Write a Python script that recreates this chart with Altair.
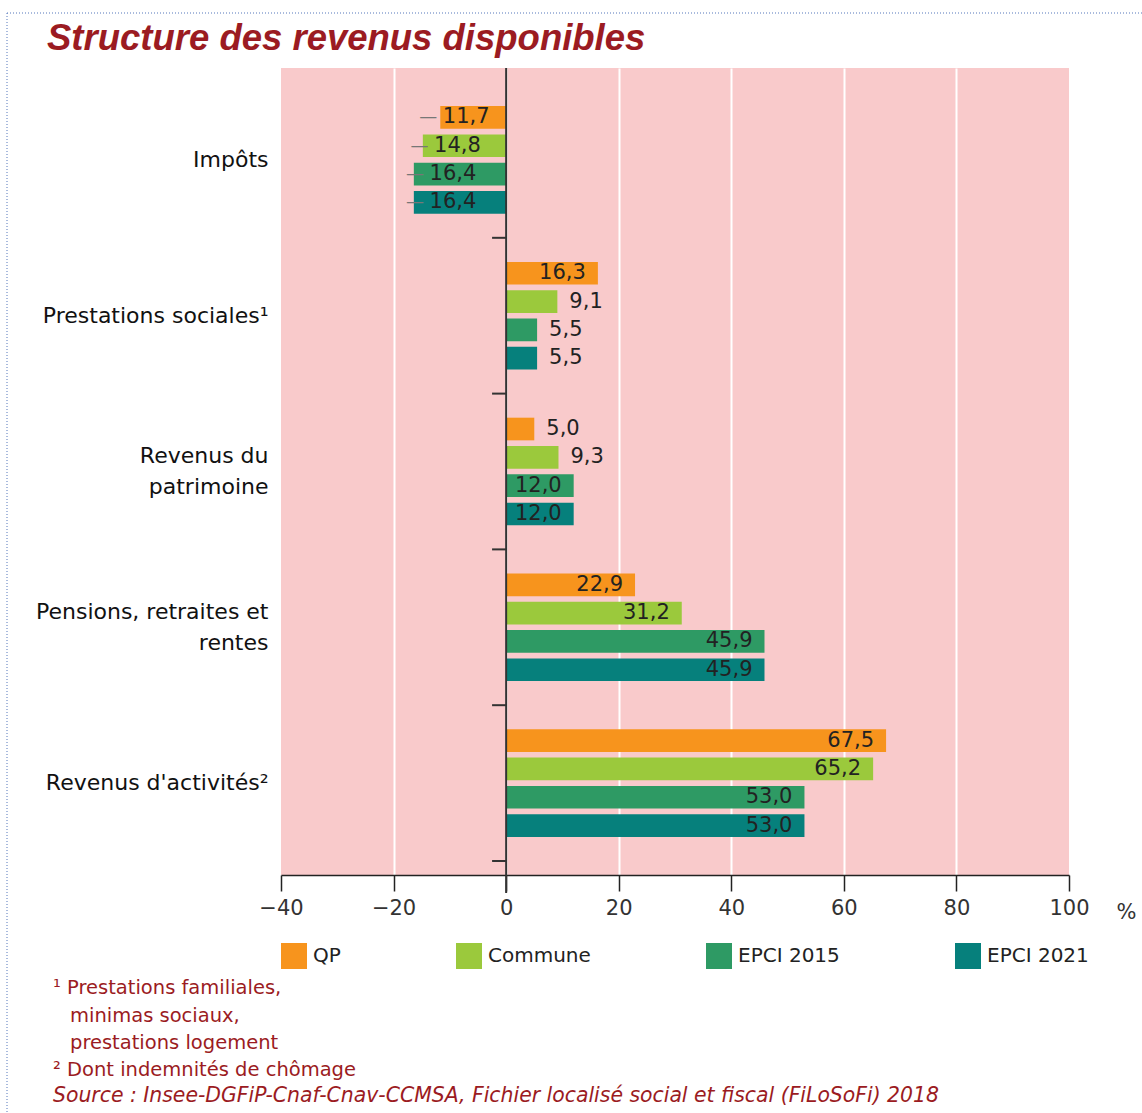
import altair as alt
import pandas as pd

categories = ["Impôts", "Prestations sociales¹", "Revenus du|patrimoine",
              "Pensions, retraites et|rentes", "Revenus d'activités²"]
series = ["QP", "Commune", "EPCI 2015", "EPCI 2021"]
qp = [-11.7, 16.3, 5.0, 22.9, 67.5]
commune = [-14.8, 9.1, 9.3, 31.2, 65.2]
epci2015 = [-16.4, 5.5, 12.0, 45.9, 53.0]
epci2021 = [-16.4, 5.5, 12.0, 45.9, 53.0]
colors = ["#F7941D", "#9BC93C", "#2E9A64", "#06807C"]
x_ticks = [-40, -20, 0, 20, 40, 60, 80, 100]

title_text = "Structure des revenus disponibles"
note1 = ["¹ Prestations familiales,"]
note1_cont = ["minimas sociaux,", "prestations logement"]
note2 = ["² Dont indemnités de chômage"]
source = "Source : Insee-DGFiP-Cnaf-Cnav-CCMSA, Fichier localisé social et fiscal (FiLoSoFi) 2018"

rows = []
for s, vals in zip(series, [qp, commune, epci2015, epci2021]):
    for c, v in zip(categories, vals):
        rows.append({"cat": c, "serie": s, "value": v,
                     "lab": f"{abs(v):.1f}".replace(".", ",")})
df = pd.DataFrame(rows)
cats_df = pd.DataFrame({"cat": categories})
one_df = pd.DataFrame({"k": [0]})

FONT = "DejaVu Sans"
RED = "#9B1B22"

yaxis = alt.Axis(title=None, domain=False, ticks=False, labelPadding=13,
                 labelFontSize=22, labelFont=FONT, labelColor="#111",
                 labelLimit=400,
                 labelLineHeight=31, labelExpr="split(datum.label, '|')",
                 labelOffset=alt.condition("indexof(datum.value, '|') >= 0",
                                           alt.value(-15.5), alt.value(0)))
xaxis = alt.Axis(values=x_ticks, title="%", domainColor="#222", domainWidth=1.5,
                 tickColor="#222", tickWidth=1.5, tickSize=16,
                 labelFontSize=21, labelFont=FONT, labelColor="#333", labelPadding=6,
                 labelFlush=False,
                 labelExpr="datum.value < 0 ? '\u2212' + abs(datum.value) : datum.label",
                 grid=True, gridWidth=2,
                 gridColor=alt.condition("datum.value == -40 || datum.value == 100",
                                         alt.value("transparent"), alt.value("white")),
                 titleX=845, titleY=37, titleAngle=0, titleAlign="center",
                 titleBaseline="middle", titleFontSize=21, titleFont=FONT,
                 titleFontWeight="normal", titleColor="#333")
xscale = alt.Scale(domain=[-40, 100], nice=False, zero=False)

Y = alt.Y("cat:N", sort=categories, scale=alt.Scale(paddingInner=0, paddingOuter=0.09), axis=yaxis)
YO = alt.YOffset("serie:N", sort=series, scale=alt.Scale(paddingInner=0.2, paddingOuter=0.85))

base = alt.Chart(df)

bars = base.mark_bar().encode(
    y=Y, yOffset=YO,
    x=alt.X("value:Q", scale=xscale, axis=xaxis),
    color=alt.Color("serie:N", sort=series,
                    scale=alt.Scale(domain=series, range=colors),
                    legend=alt.Legend(orient="none", legendX=0, legendY=875,
                                      direction="horizontal", title=None,
                                      symbolType="square", symbolSize=676,
                                      symbolStrokeWidth=0, symbolOpacity=1,
                                      labelFontSize=20, labelFont=FONT,
                                      labelColor="#222", labelOffset=6,
                                      columnPadding=115)),
)

txt_kw = dict(fontSize=21, font=FONT, color="#222", baseline="middle")

inside = base.transform_filter("datum.value >= 10").mark_text(
    align="right", dx=-12, **txt_kw).encode(
    y=Y, yOffset=YO, x=alt.X("value:Q", scale=xscale, axis=xaxis), text="lab:N")

outside = base.transform_filter("datum.value >= 0 && datum.value < 10").mark_text(
    align="left", dx=12, **txt_kw).encode(
    y=Y, yOffset=YO, x=alt.X("value:Q", scale=xscale, axis=xaxis), text="lab:N")

neg = base.transform_filter("datum.value < 0").transform_calculate(
    mid="datum.value / 2").mark_text(align="center", dx=-7, **txt_kw).encode(
    y=Y, yOffset=YO, x=alt.X("mid:Q", scale=xscale, axis=xaxis), text="lab:N")

dash = base.transform_filter("datum.value < 0").transform_calculate(
    mid="datum.value / 2").mark_text(align="center", dx=-45, fontSize=18,
                                     font=FONT, color="#777", baseline="middle",
                                     text="\u2014").encode(
    y=Y, yOffset=YO, x=alt.X("mid:Q", scale=xscale, axis=xaxis))

zero = alt.Chart(one_df).mark_rule(color="#333", strokeWidth=2).encode(
    x=alt.datum(0), y=alt.value(0), y2=alt.value(825))

bticks = alt.Chart(cats_df).transform_filter(
    f"datum.cat != '{categories[0]}'").mark_rule(color="#333", strokeWidth=2).encode(
    y=alt.Y("cat:N", sort=categories, bandPosition=0, axis=yaxis),
    x=alt.datum(-2.5), x2=alt.datum(0))

bottom_tick = alt.Chart(cats_df).transform_filter(
    "datum.cat == \"Revenus d'activités²\"").mark_rule(color="#333", strokeWidth=2).encode(
    y=alt.Y("cat:N", sort=categories, bandPosition=1, axis=yaxis),
    x=alt.datum(-2.5), x2=alt.datum(0))

title_layer = alt.Chart(one_df).mark_text(
    text=title_text, align="left", baseline="alphabetic", fontSize=36.5,
    font="Liberation Sans", fontWeight="bold", fontStyle="italic", color=RED).encode(
    x=alt.value(-234), y=alt.value(-18))

note_kw = dict(align="left", baseline="middle", lineHeight=27,
               font=FONT, color=RED)

n1 = alt.Chart(one_df).mark_text(text=note1, fontSize=19.5, **note_kw).encode(
    x=alt.value(-228), y=alt.value(920))
n1c = alt.Chart(one_df).mark_text(text=note1_cont, fontSize=19.5, **note_kw).encode(
    x=alt.value(-211), y=alt.value(948))
n2 = alt.Chart(one_df).mark_text(text=note2, fontSize=19.5, **note_kw).encode(
    x=alt.value(-228), y=alt.value(1002))
src = alt.Chart(one_df).mark_text(text=source, fontStyle="italic", fontSize=20.4,
                                  **note_kw).encode(
    x=alt.value(-228), y=alt.value(1028))

frame_kw = dict(color="#5577BB", strokeWidth=1, strokeDash=[1, 2])
frame_top = alt.Chart(one_df).mark_rule(**frame_kw).encode(
    x=alt.value(-274), x2=alt.value(861), y=alt.value(-55))
frame_left = alt.Chart(one_df).mark_rule(**frame_kw).encode(
    x=alt.value(-274), y=alt.value(-55), y2=alt.value(1045))

chart = alt.layer(bars, inside, outside, neg, dash, zero, bticks, bottom_tick,
                  title_layer, n1, n1c, n2, src, frame_top, frame_left).properties(
    width=788, height=807,
    background="white",
    autosize=alt.AutoSizeParams(type="none"),
    padding={"left": 281, "top": 68, "right": 73, "bottom": 238},
).configure_view(fill="#F9CACB", stroke=None)

chart.save("out.html", embed_options={"renderer": "svg", "actions": False})
